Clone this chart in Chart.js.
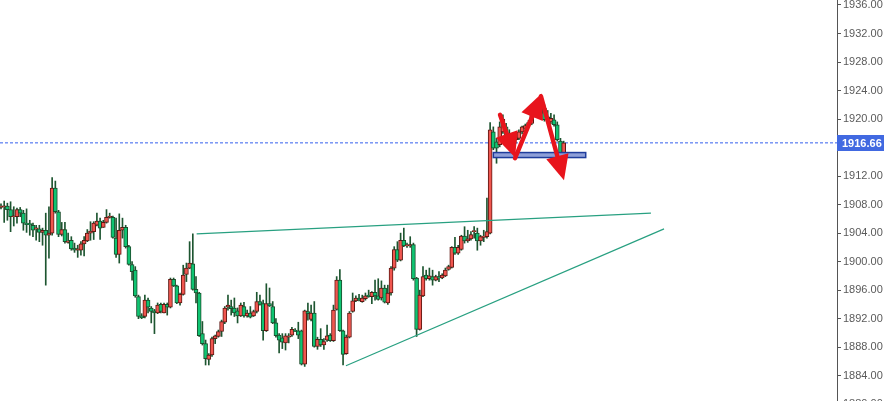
<!DOCTYPE html>
<html>
<head>
<meta charset="utf-8">
<script src="https://cdn.jsdelivr.net/npm/chart.js@4.4.1/dist/chart.umd.min.js"></script>
<style>
  html, body { margin: 0; padding: 0; background: #fff; overflow: hidden; }
</style>
</head>
<body>
<canvas id="chart" width="884" height="401"></canvas>
<script>
// candles (red = up, green = down)
const opens = [1907.6,1907.7,1907.8,1907.3,1906.3,1906.3,1907.3,1906.8,1905.4,1905.3,1905.1,1904.6,1904.6,1904.1,1904.4,1903.7,1904.0,1910.3,1907.0,1903.8,
  1904.5,1902.7,1903.0,1901.9,1901.6,1901.6,1902.5,1902.9,1904.0,1904.2,1905.1,1905.7,1904.8,1905.5,1906.2,1906.2,1903.3,1901.0,1904.4,1904.8,
  1902.1,1899.6,1898.8,1895.1,1892.4,1892.3,1894.6,1893.5,1893.1,1892.8,1894.0,1892.8,1894.0,1893.6,1897.5,1896.6,1894.2,1895.4,1898.2,1899.1,
  1899.7,1896.1,1895.6,1889.9,1888.5,1886.3,1886.9,1889.2,1889.5,1890.2,1891.5,1893.6,1893.7,1893.5,1893.1,1892.4,1893.7,1892.4,1892.8,1892.4,
  1893.0,1894.4,1894.1,1890.3,1894.1,1893.7,1891.4,1889.7,1889.3,1888.6,1889.4,1889.7,1890.4,1890.3,1890.3,1885.6,1893.0,1891.9,1892.8,1888.1,
  1889.1,1888.3,1889.0,1889.7,1888.9,1893.3,1897.4,1890.3,1887.1,1889.4,1893.0,1894.5,1894.9,1894.4,1894.8,1895.3,1895.1,1895.7,1895.2,1894.9,
  1896.3,1894.2,1895.6,1899.1,1901.7,1900.2,1903.0,1902.2,1902.2,1902.4,1897.7,1890.5,1895.2,1898.1,1897.6,1897.9,1897.4,1897.9,1897.7,1898.0,
  1898.9,1899.2,1902.0,1901.2,1901.7,1903.6,1902.9,1903.2,1904.2,1904.0,1902.9,1903.4,1903.5,1904.0,1918.2,1916.8,1916.4,1918.2,1918.9,1918.0,
  1915.6,1917.1,1917.3,1918.2,1918.7,1919.2,1919.4,1920.6,1921.5,1921.7,1921.5,1920.3,1919.6,1919.9,1919.2,1916.9,1915.3];
const highs = [1908.1,1908.5,1908.2,1908.4,1907.7,1907.5,1907.6,1907.2,1907.4,1905.8,1905.4,1905.1,1905.1,1904.7,1906.8,1907.7,1911.8,1911.3,1907.2,1905.5,
  1905.5,1904.0,1903.5,1902.6,1902.3,1902.8,1903.5,1904.5,1905.6,1905.6,1906.8,1906.1,1905.8,1907.3,1906.8,1906.4,1906.1,1906.7,1906.1,1905.1,
  1902.3,1900.0,1899.3,1895.3,1892.7,1895.3,1894.9,1893.7,1893.3,1894.2,1894.2,1894.2,1894.2,1897.7,1897.7,1896.7,1895.6,1899.5,1899.8,1902.8,
  1903.9,1897.9,1895.7,1891.6,1889.0,1887.1,1889.4,1889.7,1890.4,1891.8,1893.7,1895.3,1894.6,1894.9,1893.5,1894.2,1894.3,1893.2,1893.7,1893.2,
  1895.7,1895.3,1894.6,1896.9,1896.3,1894.4,1892.0,1889.9,1889.9,1889.9,1889.9,1890.8,1890.6,1891.5,1890.4,1893.2,1894.2,1893.9,1894.4,1889.4,
  1890.6,1889.2,1891.1,1889.9,1893.9,1897.9,1898.9,1890.4,1889.7,1893.0,1895.6,1895.2,1895.4,1895.3,1895.6,1896.0,1895.8,1897.4,1897.6,1897.3,
  1896.7,1896.7,1899.3,1902.1,1902.8,1904.0,1904.7,1902.6,1903.5,1902.6,1897.8,1896.0,1899.3,1898.8,1899.1,1898.8,1898.1,1898.6,1898.3,1899.1,
  1899.5,1902.1,1903.4,1902.3,1903.7,1904.9,1904.4,1904.2,1904.9,1904.7,1903.7,1904.4,1908.9,1919.5,1918.9,1917.3,1919.6,1920.6,1919.4,1918.5,
  1917.3,1917.8,1918.5,1919.0,1919.3,1919.8,1921.0,1921.9,1922.8,1922.3,1922.0,1921.2,1920.8,1920.6,1919.6,1917.3,1916.9];
const lows = [1907.4,1905.5,1905.8,1904.2,1905.0,1905.4,1906.3,1904.4,1904.1,1903.7,1903.5,1903.0,1902.8,1902.3,1896.7,1900.5,1903.7,1906.8,1903.5,1903.6,
  1902.6,1902.6,1901.6,1901.3,1900.6,1900.9,1900.8,1902.8,1903.0,1903.1,1905.0,1903.1,1904.8,1905.4,1906.1,1903.3,1900.6,1899.8,1903.3,1901.9,
  1899.5,1897.4,1895.0,1892.0,1892.0,1892.1,1892.8,1891.4,1889.9,1892.7,1892.8,1892.8,1892.5,1893.5,1896.5,1894.1,1893.9,1895.3,1897.2,1899.0,
  1896.0,1894.2,1889.5,1888.3,1885.5,1885.5,1886.7,1888.5,1889.4,1889.5,1891.3,1893.2,1892.5,1892.3,1891.4,1892.3,1892.2,1892.2,1892.1,1892.3,
  1892.8,1893.9,1889.0,1890.2,1893.7,1891.3,1889.4,1887.2,1887.8,1887.6,1888.6,1889.5,1890.2,1889.2,1885.5,1885.3,1891.8,1891.7,1888.0,1887.7,
  1888.1,1887.7,1888.8,1888.8,1888.8,1893.2,1890.2,1885.5,1887.0,1889.3,1892.9,1894.4,1894.5,1894.3,1894.6,1895.0,1894.1,1894.6,1894.6,1894.6,
  1894.2,1894.0,1895.3,1898.8,1900.0,1900.1,1902.1,1902.0,1902.0,1897.4,1889.5,1890.4,1895.1,1897.4,1897.4,1896.7,1897.3,1897.2,1897.6,1897.9,
  1898.8,1899.1,1901.0,1901.0,1901.6,1902.6,1902.7,1903.0,1903.3,1901.6,1902.3,1902.8,1903.3,1903.9,1915.7,1913.8,1916.1,1918.0,1916.6,1915.7,
  1914.9,1916.6,1917.1,1917.9,1918.4,1918.9,1919.2,1920.3,1921.2,1920.7,1919.7,1919.6,1919.3,1919.0,1916.9,1914.6,1913.3];
const closes = [1907.8,1907.8,1907.3,1906.3,1906.4,1907.3,1906.8,1905.4,1905.2,1905.2,1904.4,1904.7,1904.1,1904.4,1903.7,1904.0,1910.3,1907.0,1903.8,1904.5,
  1902.8,1902.9,1901.8,1901.6,1901.8,1902.5,1903.0,1904.0,1904.3,1905.4,1905.7,1904.7,1905.5,1906.2,1906.4,1903.4,1901.0,1904.4,1904.8,1902.1,
  1899.6,1898.6,1895.2,1892.3,1892.1,1894.6,1893.6,1893.0,1892.8,1893.9,1893.0,1894.0,1893.6,1897.5,1896.6,1894.2,1895.4,1898.1,1899.1,1899.8,
  1896.1,1895.6,1889.6,1888.5,1886.4,1886.9,1889.2,1889.6,1890.2,1891.6,1893.5,1893.9,1893.4,1892.8,1892.4,1893.9,1892.4,1892.8,1892.2,1893.0,
  1894.4,1894.0,1890.3,1894.1,1893.8,1891.4,1889.6,1889.0,1888.7,1889.6,1889.6,1890.5,1890.2,1889.7,1885.6,1893.1,1892.7,1892.8,1888.1,1889.1,
  1888.3,1888.8,1889.6,1888.9,1893.2,1897.4,1890.3,1887.0,1889.4,1892.8,1894.5,1894.9,1894.6,1894.9,1895.2,1895.1,1895.7,1895.2,1894.7,1896.3,
  1894.3,1895.6,1899.1,1901.7,1900.2,1903.0,1902.2,1902.3,1902.4,1897.6,1890.5,1895.3,1897.9,1897.6,1898.0,1897.4,1897.9,1897.7,1898.1,1898.8,
  1899.3,1902.0,1901.2,1902.0,1903.6,1902.9,1903.2,1903.8,1904.3,1902.9,1903.5,1903.6,1904.2,1918.5,1915.9,1915.9,1918.9,1920.0,1917.1,1916.6,
  1916.9,1917.5,1918.2,1918.9,1919.1,1919.5,1920.8,1921.3,1922.4,1920.8,1919.9,1919.9,1920.1,1919.2,1917.1,1915.3,1916.66];

const lastPrice = 1916.66;
const yTicks = [1880, 1884, 1888, 1892, 1896, 1900, 1904, 1908, 1912, 1920, 1924, 1928, 1932, 1936];

// drawings: [candle index, price]
const trendA = [[61.2, 1903.9], [203.3, 1906.8]];
const trendB = [[107.9, 1885.4], [207.4, 1904.6]];
const arrowFrom = [[156.1, 1920.6], [160.8, 1914.5], [168.9, 1923.2]];
const arrowTo = [[160.8, 1914.6], [169.1, 1923.6], [176.1, 1911.4]];
const zoneX = [154.0, 182.9];
const zoneY = [1915.3, 1914.6];

const xMin = -0.31, xMax = 261.5;

const bodies = opens.map((o, i) => ({ x: i, y: [o, closes[i]] }));
const wicks = lows.map((l, i) => ({ x: i, y: [l, highs[i]] }));
const isUp = opens.map((o, i) => closes[i] >= o);

function drawArrow(ctx, x1, y1, x2, y2) {
  const a = Math.atan2(y2 - y1, x2 - x1);
  const head = 25, half = 11.5;
  const bx = x2 - head * Math.cos(a), by = y2 - head * Math.sin(a);
  ctx.strokeStyle = '#e8141c';
  ctx.fillStyle = '#e8141c';
  ctx.lineWidth = 4.5;
  ctx.lineCap = 'round';
  ctx.beginPath();
  ctx.moveTo(x1, y1);
  ctx.lineTo(bx, by);
  ctx.stroke();
  ctx.beginPath();
  ctx.moveTo(x2, y2);
  ctx.lineTo(bx + half * Math.sin(a), by - half * Math.cos(a));
  ctx.lineTo(bx - half * Math.sin(a), by + half * Math.cos(a));
  ctx.closePath();
  ctx.fill();
}

const overlays = {
  id: 'overlays',
  afterDatasetsDraw(chart) {
    const { ctx, scales: { x, y } } = chart;
    ctx.save();
    // support zone
    const rx1 = x.getPixelForValue(zoneX[0]), rx2 = x.getPixelForValue(zoneX[1]);
    const ry1 = y.getPixelForValue(zoneY[0]), ry2 = y.getPixelForValue(zoneY[1]);
    ctx.fillStyle = '#8e9fd8';
    ctx.fillRect(rx1, ry1, rx2 - rx1, ry2 - ry1);
    ctx.strokeStyle = '#1f3d9c';
    ctx.lineWidth = 1.5;
    ctx.strokeRect(rx1, ry1, rx2 - rx1, ry2 - ry1);
    // arrows
    arrowFrom.forEach((p, i) => {
      drawArrow(ctx, x.getPixelForValue(p[0]), y.getPixelForValue(p[1]),
        x.getPixelForValue(arrowTo[i][0]), y.getPixelForValue(arrowTo[i][1]));
    });
    ctx.restore();
  },
  afterDraw(chart) {
    const { ctx, scales: { y }, chartArea } = chart;
    const py = Math.round(y.getPixelForValue(lastPrice));
    ctx.save();
    ctx.fillStyle = '#4169e1';
    ctx.fillRect(chartArea.right, py - 8, chart.width - chartArea.right, 16);
    ctx.fillStyle = '#fff';
    ctx.font = 'bold 11px "Liberation Sans", Arial, sans-serif';
    ctx.textBaseline = 'middle';
    ctx.fillText(lastPrice.toFixed(2), chartArea.right + 5, py + 0.5);
    ctx.restore();
  }
};

new Chart(document.getElementById('chart'), {
  type: 'bar',
  data: {
    datasets: [
      {
        type: 'line',
        data: [{ x: xMin, y: lastPrice }, { x: xMax, y: lastPrice }],
        borderColor: '#3560ee', borderWidth: 1, borderDash: [3, 2],
        pointRadius: 0, order: 5
      },
      {
        data: wicks, backgroundColor: '#1d5530',
        barThickness: 1, grouped: false, order: 4
      },
      {
        data: bodies,
        backgroundColor: isUp.map(u => u ? '#f0564f' : '#0fc472'),
        borderColor: isUp.map(u => u ? '#5e1712' : '#1b4d2c'),
        borderWidth: 1, borderSkipped: false,
        barThickness: 4, minBarLength: 1, grouped: false, order: 3
      },
      {
        type: 'line',
        data: trendA.map(p => ({ x: p[0], y: p[1] })),
        borderColor: '#28a081', borderWidth: 1.2, pointRadius: 0, order: 1
      },
      {
        type: 'line',
        data: trendB.map(p => ({ x: p[0], y: p[1] })),
        borderColor: '#28a081', borderWidth: 1.2, pointRadius: 0, order: 1
      }
    ]
  },
  options: {
    responsive: false,
    animation: false,
    devicePixelRatio: 1,
    layout: { padding: 0 },
    plugins: { legend: { display: false }, tooltip: { enabled: false } },
    scales: {
      x: { type: 'linear', min: xMin, max: xMax, display: false, offset: false },
      y: {
        position: 'right',
        min: 1880.45,
        max: 1936.7,
        afterFit(s) {
          s.width = 47;
          s.paddingTop = 0;
          s.paddingBottom = 0;
        },
        afterBuildTicks(s) { s.ticks = yTicks.map(v => ({ value: v })); },
        grid: { drawOnChartArea: false, drawTicks: true, tickLength: 4, color: '#555' },
        border: { color: '#555' },
        ticks: {
          padding: 2,
          color: '#5a5a5a',
          font: { family: '"Liberation Sans", Arial, sans-serif', size: 11 },
          callback: v => v.toFixed(2)
        }
      }
    }
  },
  plugins: [overlays]
});
</script>
</body>
</html>
